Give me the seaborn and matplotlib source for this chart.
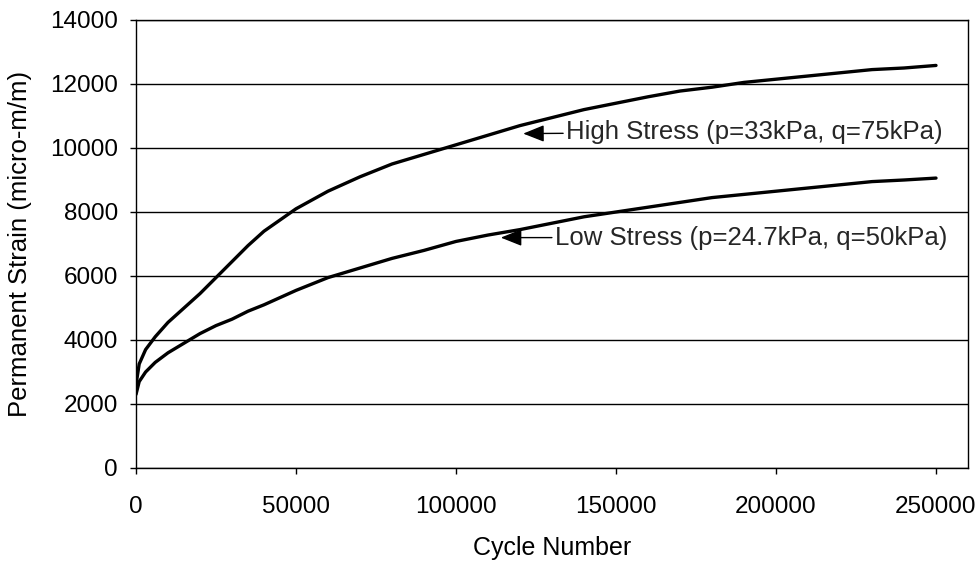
import matplotlib
matplotlib.use("Agg")
import matplotlib.pyplot as plt
import seaborn as sns
import pandas as pd

cycles = [0, 1000, 3000, 6000, 10000, 15000, 20000, 25000, 30000, 35000, 40000,
          50000, 60000, 70000, 80000, 90000, 100000, 110000, 120000, 130000,
          140000, 150000, 160000, 170000, 180000, 190000, 200000, 210000,
          220000, 230000, 240000, 250000]
high_stress = [2600, 3250, 3700, 4100, 4550, 5000, 5450, 5950, 6450, 6950, 7400,
               8100, 8650, 9100, 9500, 9800, 10100, 10400, 10700, 10950,
               11200, 11400, 11600, 11780, 11900, 12050, 12150, 12250,
               12350, 12450, 12500, 12580]
low_stress = [2300, 2700, 3000, 3300, 3600, 3900, 4200, 4450, 4650, 4900, 5100,
              5550, 5950, 6250, 6550, 6800, 7080, 7280, 7450, 7650,
              7850, 8000, 8150, 8300, 8450, 8550, 8650, 8750,
              8850, 8950, 9000, 9060]
series_names = ["High Stress (p=33kPa, q=75kPa)", "Low Stress (p=24.7kPa, q=50kPa)"]
x_ticks = [0, 50000, 100000, 150000, 200000, 250000]
y_ticks = [0, 2000, 4000, 6000, 8000, 10000, 12000, 14000]

df = pd.DataFrame({
    "Cycle Number": cycles * 2,
    "Strain": high_stress + low_stress,
    "Series": [series_names[0]] * len(cycles) + [series_names[1]] * len(cycles),
})

sns.set_theme(style="white")
plt.rcParams["font.family"] = ["Liberation Sans", "DejaVu Sans"]

fig = plt.figure(figsize=(9.8, 5.63), dpi=100)
ax = fig.add_axes([136/980, 95/563, (968-136)/980, (468-20)/563])

sns.lineplot(data=df, x="Cycle Number", y="Strain", units="Series",
             estimator=None, color="black", linewidth=2.4, ax=ax, legend=False)

ax.set_xlim(0, 260000)
ax.set_ylim(0, 14000)
ax.set_xticks(x_ticks)
ax.set_xticklabels([str(v) for v in x_ticks])
ax.set_yticks(y_ticks)
ax.set_yticklabels([str(v) for v in y_ticks])
ax.yaxis.grid(True, color="black", linewidth=1.0)
ax.xaxis.grid(False)
for s in ["left", "right", "top", "bottom"]:
    ax.spines[s].set_visible(True)
    ax.spines[s].set_color("black")
    ax.spines[s].set_linewidth(1.0)
ax.tick_params(axis="both", which="both", direction="out", length=4, width=1,
               color="black", labelsize=17.5, labelcolor="black",
               bottom=True, left=True)
ax.tick_params(axis="x", pad=16)
ax.tick_params(axis="y", pad=9)
ax.set_xlabel("Cycle Number", fontsize=18, color="black", va="top")
ax.xaxis.set_label_coords(0.5, -0.152)
ax.set_ylabel("Permanent Strain (micro-m/m)", fontsize=18.5, color="black", va="center")
ax.yaxis.set_label_coords(-0.139, 0.5)

arrow = dict(arrowstyle="-|>,head_length=0.7,head_width=0.28", color="black", lw=1.0,
             shrinkA=0, shrinkB=0)
ax.annotate(series_names[0], xy=(121000, 10450), xytext=(134500, 10500),
            fontsize=18.5, va="center", ha="left", arrowprops=arrow)
ax.annotate(series_names[1], xy=(114000, 7200), xytext=(131000, 7200),
            fontsize=18.5, va="center", ha="left", arrowprops=arrow)

fig.savefig("out.png", dpi=100)
